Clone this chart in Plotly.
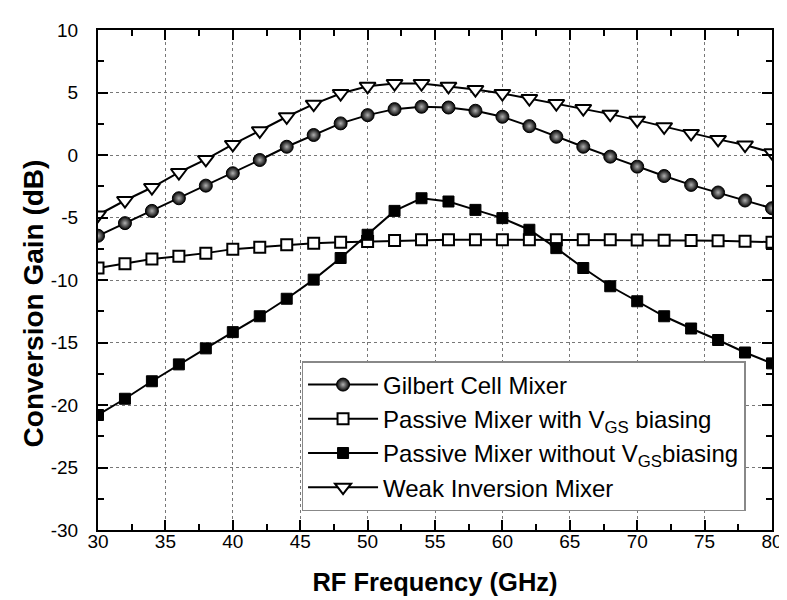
import plotly.graph_objects as go

freq = [30, 32, 34, 36, 38, 40, 42, 44, 46, 48, 50, 52, 54, 56, 58, 60, 62, 64, 66, 68, 70, 72, 74, 76, 78, 80]

gilbert = [-6.46, -5.45, -4.47, -3.46, -2.45, -1.46, -0.4, 0.66, 1.6, 2.53, 3.19, 3.67, 3.86,
           3.8, 3.54, 3.06, 2.31, 1.46, 0.66, -0.13, -0.93, -1.68, -2.39, -3.0, -3.64, -4.26]
passive_with = [-9.04, -8.7, -8.32, -8.1, -7.85, -7.53, -7.37, -7.18, -7.05, -6.97, -6.91, -6.84, -6.78,
                -6.78, -6.78, -6.78, -6.78, -6.78, -6.78, -6.78, -6.8, -6.82, -6.84, -6.86, -6.9, -6.97]
passive_without = [-20.8, -19.5, -18.1, -16.75, -15.47, -14.17, -12.9, -11.5, -9.97, -8.24, -6.38, -4.47, -3.46,
                   -3.72, -4.39, -5.05, -5.98, -7.45, -9.04, -10.5, -11.7, -12.9, -13.88, -14.8, -15.8, -16.67]
weak_inv = [-4.8, -3.64, -2.6, -1.4, -0.35, 0.85, 1.94, 3.06, 4.07, 4.92, 5.5, 5.72, 5.72,
            5.5, 5.24, 4.92, 4.52, 4.12, 3.72, 3.27, 2.79, 2.26, 1.73, 1.25, 0.8, 0.19]

names = ["Gilbert Cell Mixer",
         "Passive Mixer with V<sub>GS</sub> biasing",
         "Passive Mixer without V<sub>GS</sub>biasing",
         "Weak Inversion Mixer"]

x_ticks = [30, 35, 40, 45, 50, 55, 60, 65, 70, 75, 80]
y_ticks = [-30, -25, -20, -15, -10, -5, 0, 5, 10]

fig = go.Figure()

fig.add_trace(go.Scatter(
    x=freq, y=gilbert, name=names[0], mode="lines+markers", legendgroup="a",
    line=dict(color="black", width=2),
    marker=dict(symbol="circle", size=13, color="black",
                gradient=dict(type="radial", color="#b0b0b0"),
                line=dict(color="black", width=1))))
fig.add_trace(go.Scatter(
    x=freq, y=passive_with, name=names[1], mode="lines+markers", legendgroup="b",
    line=dict(color="black", width=2),
    marker=dict(symbol="square", size=11, color="white",
                line=dict(color="black", width=2))))
fig.add_trace(go.Scatter(
    x=freq, y=passive_without, name=names[2], mode="lines+markers", legendgroup="c",
    line=dict(color="black", width=2),
    marker=dict(symbol="square", size=11, color="black",
                line=dict(color="black", width=1))))
fig.add_trace(go.Scatter(
    x=freq, y=weak_inv, name=names[3], mode="lines+markers", legendgroup="d",
    line=dict(color="black", width=2),
    marker=dict(symbol="triangle-down", size=14, color="white",
                line=dict(color="black", width=2))))

font_main = "Arial, Liberation Sans, sans-serif"

fig.update_layout(
    width=787, height=600,
    margin=dict(l=90, r=12, t=19, b=78),
    paper_bgcolor="white", plot_bgcolor="white",
    font=dict(family=font_main, color="black"),
    xaxis=dict(
        range=[30, 80], tickvals=x_ticks, ticktext=[str(v) for v in x_ticks],
        ticks="inside", ticklen=10, tickwidth=1.5, tickcolor="black",
        minor=dict(ticks="inside", dtick=2.5, ticklen=6, tickcolor="black", tickwidth=1.5, showgrid=False),
        showline=True, linecolor="black", linewidth=2, mirror="ticks",
        showgrid=True, gridcolor="#777777", griddash="3px,3px", gridwidth=1,
        zeroline=False,
        tickfont=dict(family=font_main, size=19),
        ticklabelstandoff=-7,
        title=dict(text="<b>RF Frequency (GHz)</b>", font=dict(family=font_main, size=25.5), standoff=22),
    ),
    yaxis=dict(
        range=[-30, 10], tickvals=y_ticks, ticktext=[str(v) for v in y_ticks],
        ticks="inside", ticklen=10, tickwidth=1.5, tickcolor="black",
        minor=dict(ticks="inside", dtick=2.5, ticklen=6, tickcolor="black", tickwidth=1.5, showgrid=False),
        showline=True, linecolor="black", linewidth=2, mirror="ticks",
        showgrid=True, gridcolor="#777777", griddash="3px,3px", gridwidth=1,
        zeroline=False,
        tickfont=dict(family=font_main, size=19),
        ticklabelstandoff=14,
    ),
    legend=dict(
        x=0.302, y=0.338, xanchor="left", yanchor="top",
        bgcolor="white", bordercolor="#888888", borderwidth=1.5,
        font=dict(family=font_main, size=24),
        tracegroupgap=0, itemwidth=70,
    ),
    annotations=[dict(
        text="<b>Conversion Gain (dB)</b>", textangle=-90,
        xref="paper", yref="paper", x=0, xanchor="center",
        y=(521.7 - 294) / 502.4, yanchor="middle",
        showarrow=False, font=dict(family=font_main, size=28),
        xshift=25 - 90,
    )],
)

fig.write_html("out.html")
